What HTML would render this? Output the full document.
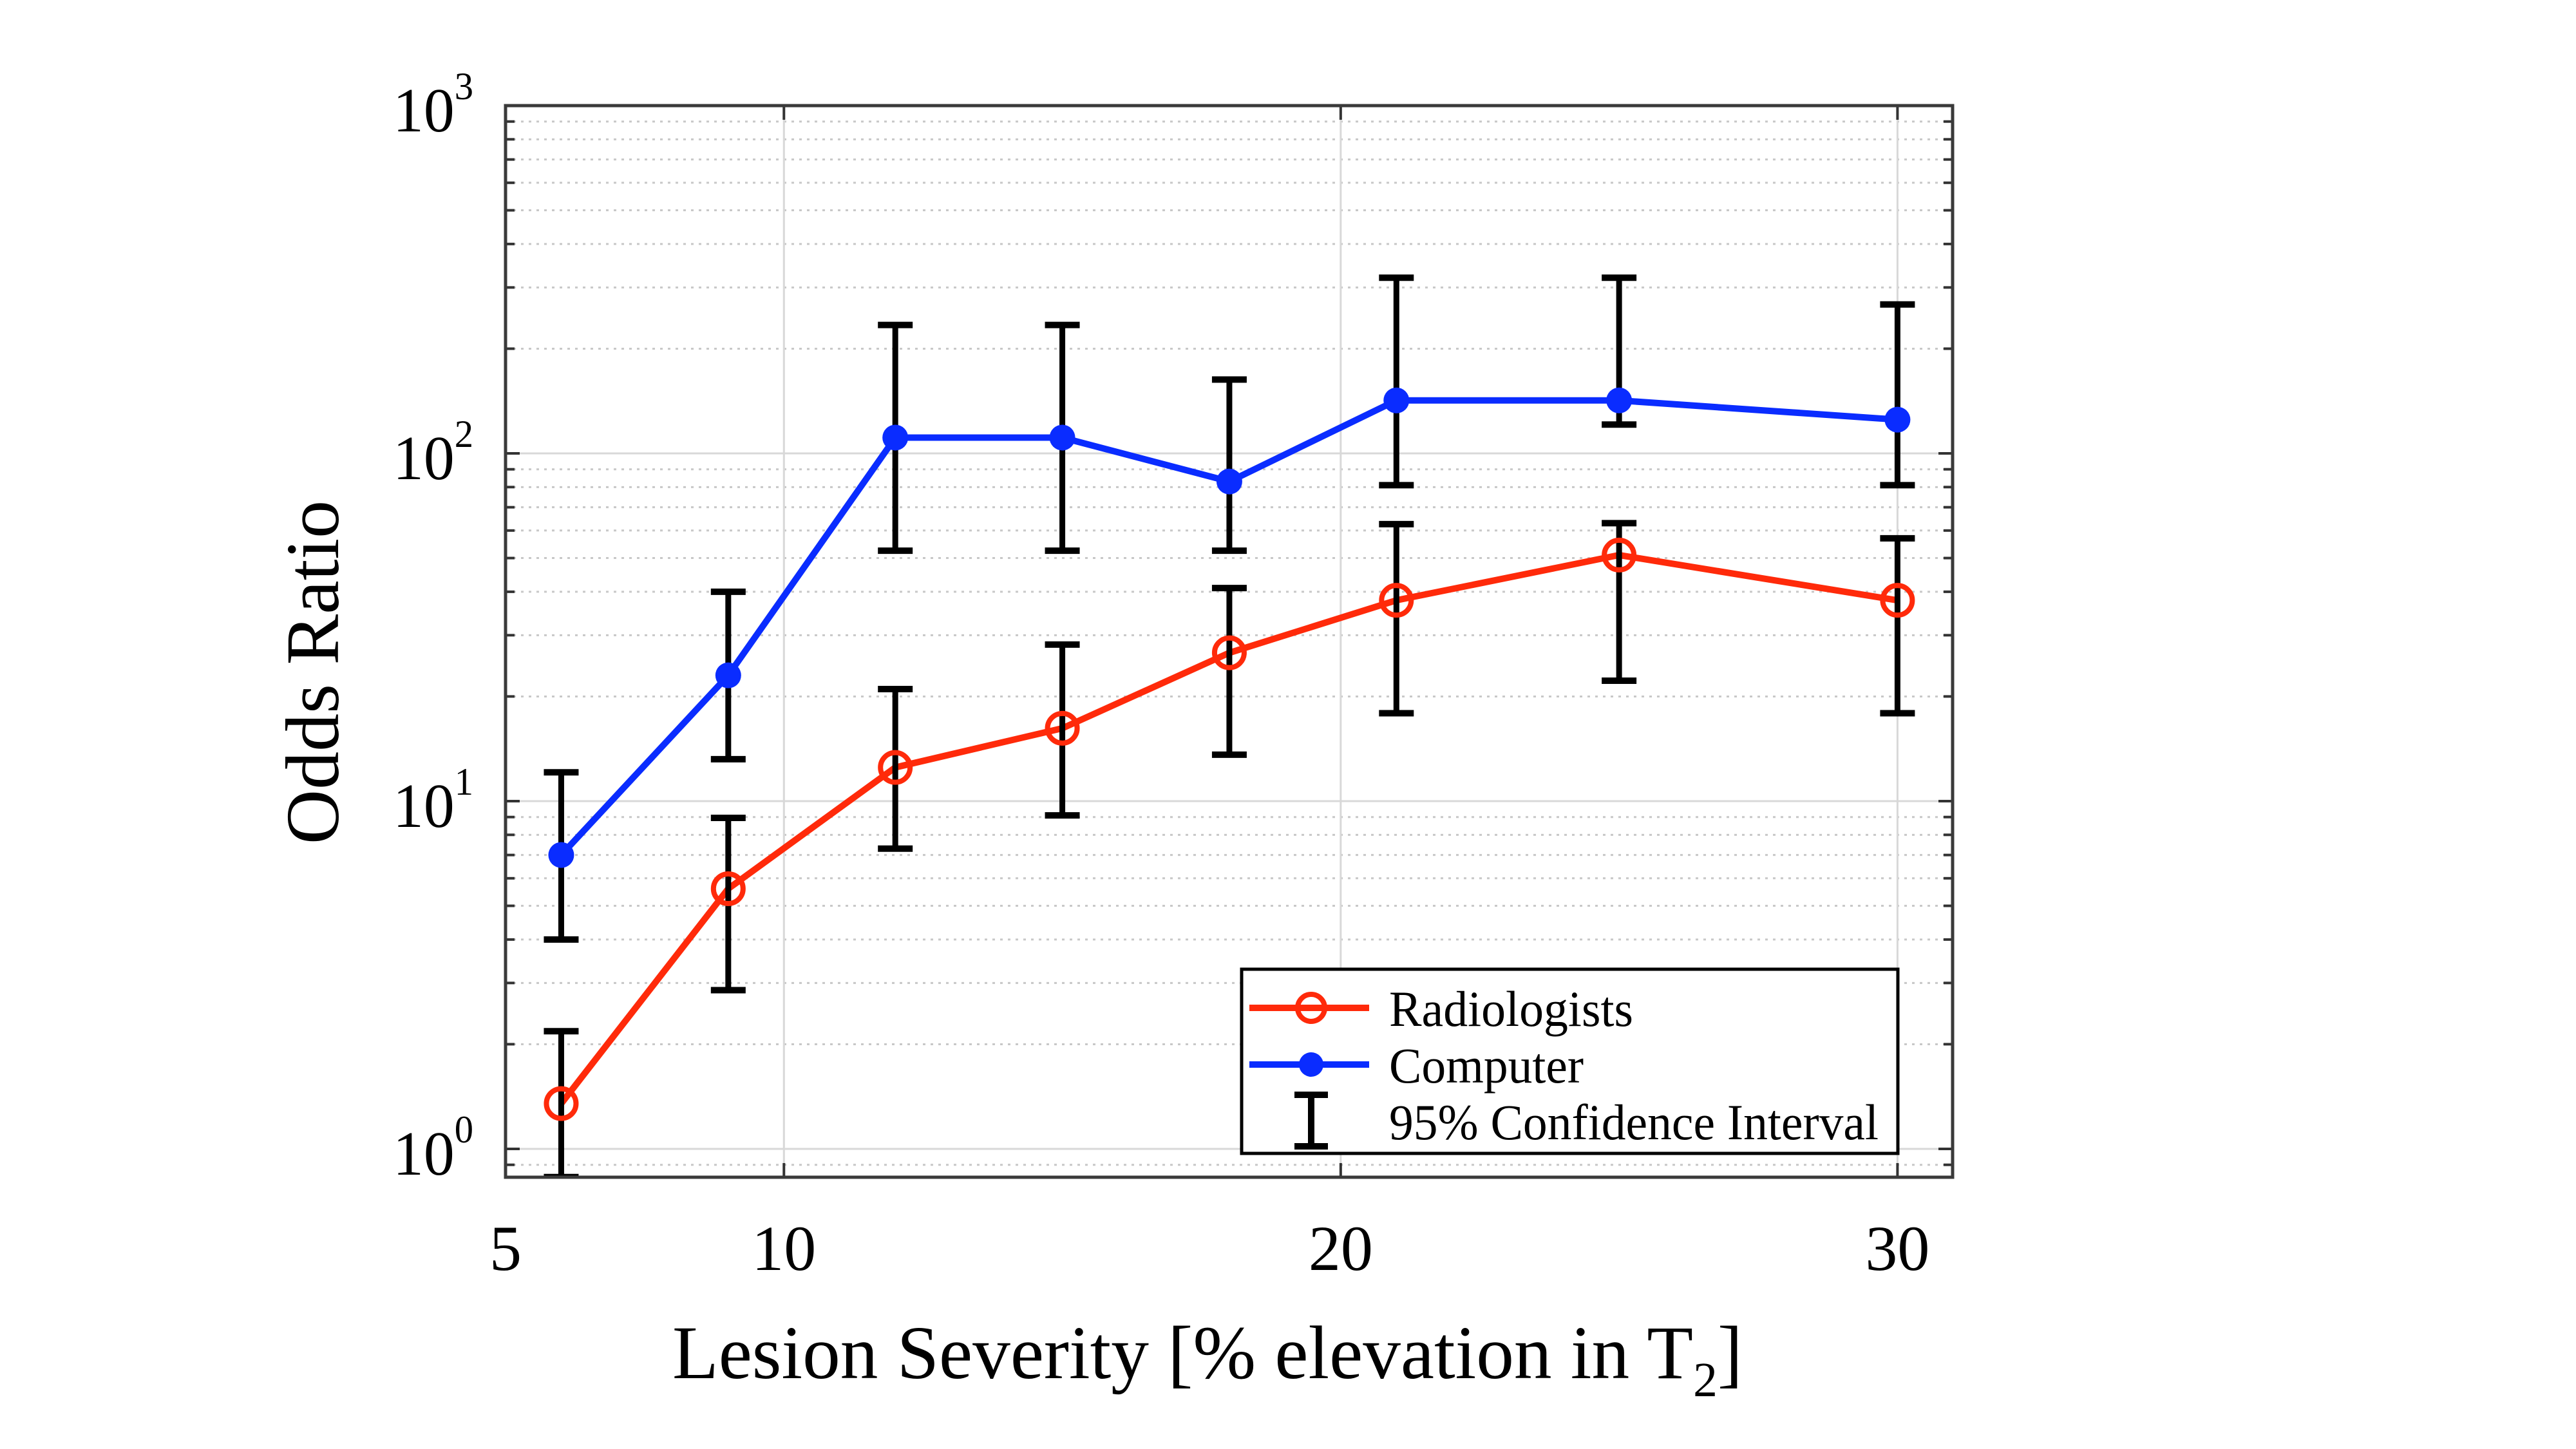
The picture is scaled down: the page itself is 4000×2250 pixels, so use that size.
<!DOCTYPE html>
<html><head><meta charset="utf-8"><style>
html,body{margin:0;padding:0;background:#fff;}
svg{display:block;}
text{font-family:"Liberation Serif",serif;fill:#000;}
</style></head><body>
<svg id="chart" width="4000" height="2250" viewBox="0 0 4000 2250" xmlns="http://www.w3.org/2000/svg">
<rect x="0" y="0" width="4000" height="2250" fill="#fff"/>
<g id="grid"></g>
<g id="series"></g>
<g id="axes"></g>
<g id="legend"></g>
</svg>
<script>
const severity = [6, 9, 12, 15, 18, 21, 25, 30];
const radiologists = [1.35, 5.6, 12.5, 16.2, 26.7, 37.8, 51, 37.8];
const radiologistsLow = [0.83, 2.86, 7.3, 9.1, 13.6, 17.9, 22.2, 17.9];
const radiologistsHigh = [2.18, 8.95, 21, 28.2, 41, 62.6, 63, 57];
const computer = [7.0, 23, 111, 111, 83, 142, 142, 125];
const computerLow = [4.0, 13.2, 52.5, 52.5, 52.5, 81, 121, 81];
const computerHigh = [12.1, 40, 234, 234, 163, 320, 320, 268];
const xTicks = [5, 10, 20, 30];
const yDecades = [0, 1, 2, 3];

const NS = "http://www.w3.org/2000/svg";
const L = 785, R = 3032, T = 164, B = 1828;
const xMin = 5, xMax = 30.99;
const yTopLog = 3, yPxPerDecade = 540, y1 = 1784;
function xs(v){ return L + (v - xMin) / (xMax - xMin) * (R - L); }
function ys(v){ return y1 - Math.log10(v) * yPxPerDecade; }
const yMinLog = -(B - y1) / yPxPerDecade;
function mk(tag, attrs, parent){
  const e = document.createElementNS(NS, tag);
  for (const k in attrs) e.setAttribute(k, attrs[k]);
  parent.appendChild(e);
  return e;
}
const grid = document.getElementById('grid');
const series = document.getElementById('series');
const axes = document.getElementById('axes');
const legend = document.getElementById('legend');

for (let d = -1; d < 3; d++) {
  for (let m = 2; m <= 9; m++) {
    const v = m * Math.pow(10, d);
    const lg = Math.log10(v);
    if (lg < yMinLog || lg > yTopLog) continue;
    const y = ys(v);
    const g = mk('line', {x1: L, x2: R, y1: y, y2: y, stroke: '#c8c8c8', 'stroke-width': 3, 'stroke-dasharray': '4 8'}, grid);
    
    
    const t1 = mk('line', {x1: L, x2: L + 14, y1: y, y2: y, stroke: '#333', 'stroke-width': 4}, axes);
    
    
    const t2 = mk('line', {x1: R - 14, x2: R, y1: y, y2: y, stroke: '#333', 'stroke-width': 4}, axes);
    
    
  }
}
yDecades.forEach(d => {
  const y = ys(Math.pow(10, d));
  if (d < 3) {
    const g = mk('line', {x1: L, x2: R, y1: y, y2: y, stroke: '#d8d8d8', 'stroke-width': 3}, grid);
    
    
    const t1 = mk('line', {x1: L, x2: L + 22, y1: y, y2: y, stroke: '#333', 'stroke-width': 4}, axes);
    
    
    const t2 = mk('line', {x1: R - 22, x2: R, y1: y, y2: y, stroke: '#333', 'stroke-width': 4}, axes);
    
    
  }
  const tx = mk('text', {x: 610, y: y + 40, 'font-size': 98, textLength: 125, lengthAdjust: 'spacingAndGlyphs'}, axes);
  
  
  tx.innerHTML = '10<tspan font-size="60" dy="-50">' + d + '</tspan>';
});
xTicks.forEach(v => {
  const x = xs(v);
  if (v > xMin) {
    const g = mk('line', {x1: x, x2: x, y1: T, y2: B, stroke: '#d8d8d8', 'stroke-width': 3}, grid);
    
    
    const t1 = mk('line', {x1: x, x2: x, y1: T, y2: T + 22, stroke: '#333', 'stroke-width': 4}, axes);
    
    
    const t2 = mk('line', {x1: x, x2: x, y1: B - 22, y2: B, stroke: '#333', 'stroke-width': 4}, axes);
    
    
  }
  const tx = mk('text', {x: x, y: 1972, 'font-size': 100, 'text-anchor': 'middle'}, axes);
  
  
  tx.textContent = String(v);
});
const box = mk('rect', {x: L, y: T, width: R - L, height: B - T, fill: 'none', stroke: '#3a3a3a', 'stroke-width': 5}, axes);


const yt = mk('text', {x: 0, y: 0, 'font-size': 118, 'text-anchor': 'middle', transform: 'translate(525,1044) rotate(-90)'}, axes);


yt.textContent = 'Odds Ratio';
const xt = mk('text', {x: 1044, y: 2140, 'font-size': 118, textLength: 1662, lengthAdjust: 'spacingAndGlyphs'}, axes);


xt.innerHTML = 'Lesion Severity [% elevation in T<tspan font-size="76" dy="28">2</tspan><tspan dy="-28">]</tspan>';

const defs = mk('defs', {}, document.getElementById('chart'));
const cp = mk('clipPath', {id: 'plotclip'}, defs);
mk('rect', {x: L, y: T, width: R - L, height: B - T}, cp);
series.setAttribute('clip-path', 'url(#plotclip)');

function errorbars(lo, hi, name){
  severity.forEach((s, i) => {
    const x = xs(s), ya = ys(lo[i]), yb = ys(hi[i]);
    const v = mk('line', {x1: x, x2: x, y1: ya, y2: yb, stroke: '#000', 'stroke-width': 9}, series);
    
    
    const c1 = mk('line', {x1: x - 27, x2: x + 27, y1: ya, y2: ya, stroke: '#000', 'stroke-width': 10}, series);
    
    
    const c2 = mk('line', {x1: x - 27, x2: x + 27, y1: yb, y2: yb, stroke: '#000', 'stroke-width': 10}, series);
    
    
  });
}
function line(vals, color, name){
  const pts = severity.map((s, i) => xs(s) + ',' + ys(vals[i])).join(' ');
  const p = mk('polyline', {points: pts, fill: 'none', stroke: color, 'stroke-width': 10, 'stroke-linejoin': 'round'}, series);
  
  
}
line(computer, '#0a2cff', 'computer');
line(radiologists, '#ff2a0a', 'radiologists');
errorbars(computerLow, computerHigh, 'computer');
errorbars(radiologistsLow, radiologistsHigh, 'radiologists');
severity.forEach((s, i) => {
  const c = mk('circle', {cx: xs(s), cy: ys(computer[i]), r: 20, fill: '#0a2cff'}, series);
  
  
  const r = mk('circle', {cx: xs(s), cy: ys(radiologists[i]), r: 23, fill: 'none', stroke: '#ff2a0a', 'stroke-width': 8}, series);
  
  
});

const lb = mk('rect', {x: 1928, y: 1505, width: 1019, height: 286, fill: '#fff', stroke: '#000', 'stroke-width': 5}, legend);


const rows = [1565, 1653, 1741];
const l1 = mk('line', {x1: 1940, x2: 2126, y1: rows[0], y2: rows[0], stroke: '#ff2a0a', 'stroke-width': 10}, legend);


const m1 = mk('circle', {cx: 2036, cy: rows[0], r: 21, fill: 'none', stroke: '#ff2a0a', 'stroke-width': 8}, legend);


const l2 = mk('line', {x1: 1940, x2: 2126, y1: rows[1], y2: rows[1], stroke: '#0a2cff', 'stroke-width': 10}, legend);


const m2 = mk('circle', {cx: 2036, cy: rows[1], r: 19, fill: '#0a2cff'}, legend);


const ci = mk('path', {d: 'M2010 1700 H2062 M2036 1700 V1780 M2010 1780 H2062', stroke: '#000', 'stroke-width': 10, fill: 'none'}, legend);


const labels = ['Radiologists', 'Computer', '95% Confidence Interval'];
const lens = [379, 302, 760];
labels.forEach((t, i) => {
  const e = mk('text', {x: 2157, y: rows[i] + 28, 'font-size': 78, textLength: lens[i], lengthAdjust: 'spacingAndGlyphs'}, legend);
  
  
  e.textContent = t;
});
</script>
</body></html>
